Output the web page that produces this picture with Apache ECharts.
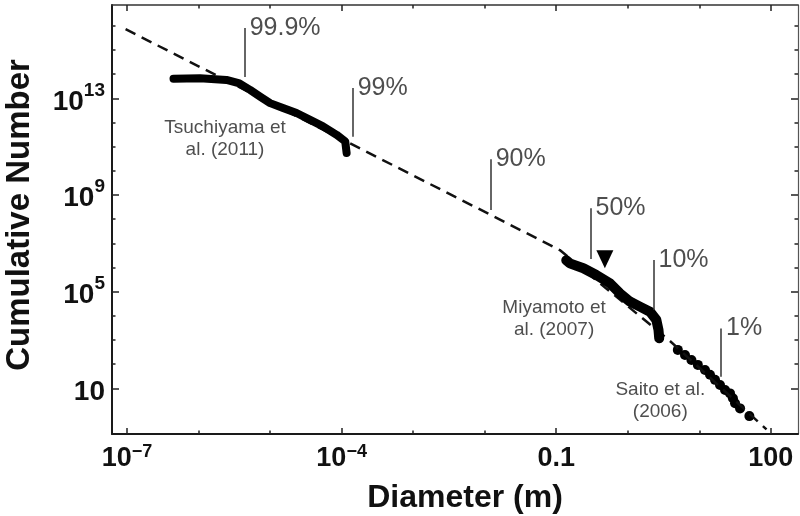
<!DOCTYPE html>
<html>
<head>
<meta charset="utf-8">
<script src="https://cdn.jsdelivr.net/npm/echarts@6/dist/echarts.min.js"></script>
<style>
  html, body { margin: 0; padding: 0; background: #fff; }
  #main { width: 800px; height: 516px; }
</style>
</head>
<body>
<div id="main"></div>
<script>
// all values are log10: x = log10(diameter in m), y = log10(cumulative number)
var xMin = -7.21, xMax = 2.38
var yMin = -0.89, yMax = 16.86

var xMinorTicks = [-7, -6, -5, -4, -3, -2, -1, 0, 1, 2]
var xMajorTicks = [-7, -4, -1, 2]
var yMinorTicks = [1, 2, 3, 4, 5, 6, 7, 8, 9, 10, 11, 12, 13, 14, 15, 16]
var yMajorTicks = [1, 5, 9, 13]

//Tsuchiyama et al. (2011)
var tsuchiyamaX = [-6.35, -5.98, -5.61, -5.44, -5.28, -5.14, -5.00, -4.82, -4.63, -4.44, -4.26, -4.07, -3.95, -3.93]
var tsuchiyamaY = [13.81, 13.83, 13.76, 13.63, 13.35, 13.07, 12.80, 12.60, 12.39, 12.11, 11.84, 11.49, 11.22, 10.74]

//Miyamoto et al. (2007)
var miyamotoX = [-0.86, -0.81, -0.62, -0.44, -0.25, -0.11, 0.03, 0.17, 0.31, 0.40, 0.43, 0.44]
var miyamotoY = [6.30, 6.17, 5.97, 5.69, 5.35, 4.93, 4.59, 4.38, 4.17, 3.83, 3.41, 3.07]

//Saito et al. (2006)
var saitoX = [0.70, 0.80, 0.89, 0.98, 1.08, 1.15, 1.22, 1.29, 1.36, 1.43, 1.47, 1.50, 1.57, 1.70]
var saitoY = [2.59, 2.38, 2.17, 1.97, 1.76, 1.56, 1.35, 1.14, 0.93, 0.79, 0.59, 0.38, 0.17, -0.15]

//dashed model curve
var modelX = [-7.02, -0.95, 0.59, 1.94]
var modelY = [15.86, 6.72, 2.96, -0.70]

//percentile markers
var markX = [-5.355, -3.846, -1.916, -0.520, 0.360, 1.304]
var markLow = [13.88, 11.41, 8.38, 6.35, 4.24, 1.48]
var markHigh = [15.91, 13.43, 10.48, 8.45, 6.31, 3.48]
var markText = ['99.9%', '99%', '90%', '50%', '10%', '1%']

//source labels
var sourceX = [-5.63, -1.03, 0.455]
var sourceY = [11.32, 3.89, 0.48]
var sourceText = ['Tsuchiyama et\nal. (2011)', 'Miyamoto et\nal. (2007)', 'Saito et al.\n(2006)']

var arrowX = [-0.32]
var arrowY = [6.34]

var FONT = '"Liberation Sans", Arial, Helvetica, sans-serif'

function pairs(xs, ys) {
  var out = []
  for (var i = 0; i < xs.length; i++) {
    out.push([xs[i], ys[i]])
  }
  return out
}

function xLabel(v) {
  if (v === -1) return '{b|0.1}'
  if (v === 2) return '{b|100}'
  return '{b|10}{s|\u2212' + Math.abs(v) + '}'
}

function yLabel(v) {
  if (v === 1) return '{b|10}'
  return '{b|10}{s|' + v + '}'
}

function tickAxis(kind, pos, values, len, lineColor, lineWidth) {
  var ax = {
    type: 'value',
    min: kind === 'x' ? xMin : yMin,
    max: kind === 'x' ? xMax : yMax,
    position: pos,
    axisLine: { show: lineWidth > 0, onZero: false, lineStyle: { color: lineColor, width: lineWidth } },
    axisTick: { show: true, inside: true, length: len, customValues: values, lineStyle: { color: '#222', width: 1.5 } },
    axisLabel: { show: false },
    splitLine: { show: false }
  }
  return ax
}

var xBottom = tickAxis('x', 'bottom', xMinorTicks, 3.5, '#1a1a1a', 2)
xBottom.axisLabel = {
  show: true,
  customValues: xMajorTicks,
  margin: 9,
  formatter: xLabel,
  rich: {
    b: { fontSize: 27, fontWeight: 'bold', fontFamily: FONT, color: '#111', lineHeight: 29, verticalAlign: 'bottom' },
    s: { fontSize: 18, fontWeight: 'bold', fontFamily: FONT, color: '#111', lineHeight: 18, verticalAlign: 'top' }
  }
}
xBottom.name = 'Diameter (m)'
xBottom.nameLocation = 'middle'
xBottom.nameGap = 48
xBottom.nameTextStyle = { fontSize: 32, fontWeight: 'bold', fontFamily: FONT, color: '#111', padding: [0, 0, 0, 20] }

var yLeft = tickAxis('y', 'left', yMinorTicks, 3.5, '#1a1a1a', 2)
yLeft.axisLabel = {
  show: true,
  customValues: yMajorTicks,
  margin: 7,
  formatter: yLabel,
  rich: {
    b: { fontSize: 28, fontWeight: 'bold', fontFamily: FONT, color: '#111', lineHeight: 35, verticalAlign: 'bottom' },
    s: { fontSize: 19, fontWeight: 'bold', fontFamily: FONT, color: '#111', lineHeight: 19, verticalAlign: 'top' }
  }
}
yLeft.name = 'Cumulative Number'
yLeft.nameLocation = 'middle'
yLeft.nameGap = 76
yLeft.nameRotate = 90
yLeft.nameTextStyle = { fontSize: 33, fontWeight: 'bold', fontFamily: FONT, color: '#111', padding: [0, 0, 0, 9] }

var chart = echarts.init(document.getElementById('main'))
var option = {
  animation: false,
  backgroundColor: '#fff',
  grid: { left: 112, right: 2, top: 5, bottom: 82, containLabel: false, outerBoundsMode: 'none' },
  xAxis: [
    xBottom,
    tickAxis('x', 'bottom', xMajorTicks, 6, '#1a1a1a', 0),
    tickAxis('x', 'top', xMinorTicks, 3.5, '#333', 1.5),
    tickAxis('x', 'top', xMajorTicks, 6, '#333', 0)
  ],
  yAxis: [
    yLeft,
    tickAxis('y', 'left', yMajorTicks, 7, '#1a1a1a', 0),
    tickAxis('y', 'right', yMinorTicks, 3.5, '#555', 1.2),
    tickAxis('y', 'right', yMajorTicks, 7, '#555', 0)
  ],
  series: [
    {
      name: 'model',
      type: 'line',
      data: pairs(modelX, modelY),
      showSymbol: false,
      silent: true,
      lineStyle: { color: '#111', width: 2.5, type: [11, 7] },
      markLine: {
        silent: true,
        symbol: 'none',
        label: { show: false },
        lineStyle: { color: '#333', width: 1.5, type: 'solid' },
        data: markX.map(function (x, i) {
          return [{ coord: [x, markLow[i]] }, { coord: [x, markHigh[i]] }]
        })
      }
    },
    {
      name: 'Tsuchiyama',
      type: 'line',
      data: pairs(tsuchiyamaX, tsuchiyamaY),
      showSymbol: false,
      lineStyle: { color: '#000', width: 8, cap: 'round', join: 'round' }
    },
    {
      name: 'Miyamoto',
      type: 'line',
      data: pairs(miyamotoX, miyamotoY),
      showSymbol: false,
      lineStyle: { color: '#000', width: 10, cap: 'round', join: 'round' }
    },
    {
      name: 'Saito',
      type: 'scatter',
      data: pairs(saitoX, saitoY),
      symbol: 'circle',
      symbolSize: 10,
      itemStyle: { color: '#000', opacity: 1 }
    },
    {
      name: 'arrow',
      type: 'scatter',
      data: pairs(arrowX, arrowY),
      symbol: 'triangle',
      symbolRotate: 180,
      symbolSize: [17, 18],
      itemStyle: { color: '#000', opacity: 1 }
    },
    {
      name: 'markText',
      type: 'scatter',
      data: pairs(markX, markHigh),
      symbolSize: 0,
      silent: true,
      label: {
        show: true,
        position: 'right',
        distance: 5,
        fontSize: 25,
        fontFamily: FONT,
        color: '#222',
        formatter: function (p) { return markText[p.dataIndex] }
      }
    },
    {
      name: 'sources',
      type: 'scatter',
      data: pairs(sourceX, sourceY),
      symbolSize: 0,
      silent: true,
      label: {
        show: true,
        position: 'inside',
        fontSize: 19,
        lineHeight: 22,
        align: 'center',
        fontFamily: FONT,
        color: '#222',
        formatter: function (p) { return sourceText[p.dataIndex] }
      }
    }
  ]
}
chart.setOption(option)
</script>
</body>
</html>
